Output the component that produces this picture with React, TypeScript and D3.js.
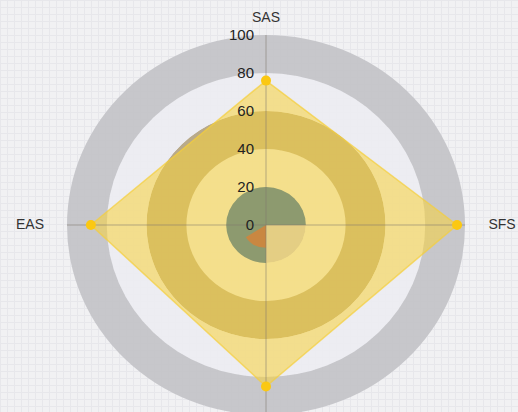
import React from "react";
import * as d3 from "d3";

// axes clockwise from the top; the bottom one is cut off in the picture
const axisNames = ["SAS", "SFS", "", "EAS"];
const scores = [76, 96, 85, 88];
const tickValues = [0, 20, 40, 60, 80, 100];
// band fills from the centre outwards (0-20, 20-40, ...)
const bandColors = ["#c9c7da", "#f0efee", "#b3a27e", "#ececf2", "#c2c2c6"];
// inner sector series, one value per quadrant (SAS-SFS, SFS-bottom, bottom-EAS, EAS-SAS)
const innerQuadrants = [20, 0, 20, 20];
const accentValue = 12;

const W = 518;
const H = 412;
const cx = 266;
const cy = 225;
const squash = 190 / 199;

export default function App() {
  const r = d3.scaleLinear().domain([0, 100]).range([0, 199]);
  const angle = (i: number) => (i / axisNames.length) * Math.PI * 2;
  const px = (i: number, v: number) => r(v) * Math.sin(angle(i));
  const py = (i: number, v: number) => -r(v) * Math.cos(angle(i)) * squash;

  const arc = d3.arc<any>();
  const bands = d3.range(bandColors.length).map((k) => ({
    inner: r(tickValues[k]),
    outer: r(tickValues[k + 1]),
    color: bandColors[k],
  }));

  const line = d3
    .line<number>()
    .x((v, i) => px(i, v))
    .y((v, i) => py(i, v))
    .curve(d3.curveLinearClosed);

  return (
    <svg
      width={W}
      height={H}
      style={{ position: "absolute", left: 0, top: 0, fontFamily: "'Liberation Sans', Arial, sans-serif" }}
    >
      <defs>
        <pattern id="paper" width="7" height="7" patternUnits="userSpaceOnUse">
          <rect width="7" height="7" fill="#f1f1f3" />
          <path d="M0 0.5H7M0.5 0V7" stroke="#e7e7eb" strokeWidth="1" />
        </pattern>
      </defs>
      <rect width={W} height={H} fill="url(#paper)" />

      <g transform={`translate(${cx},${cy}) scale(1,${squash})`}>
        {bands.map((b, k) => (
          <path
            key={k}
            d={arc({ innerRadius: b.inner, outerRadius: b.outer, startAngle: 0, endAngle: Math.PI * 2 }) || ""}
            fill={b.color}
            opacity={0.9}
          />
        ))}
      </g>

      <g transform={`translate(${cx},${cy})`}>
        <path d={line(scores) || ""} fill="#f7d13a" fillOpacity={0.55} stroke="#f5cf3a" strokeOpacity={0.7} strokeWidth={1.5} />
      </g>

      <g transform={`translate(${cx},${cy}) scale(1,${squash})`}>
        {innerQuadrants.map((v, i) => (
          <path
            key={i}
            d={arc({ innerRadius: 0, outerRadius: r(v), startAngle: angle(i), endAngle: angle(i + 1) }) || ""}
            fill="#8d9a6f"
          />
        ))}
        <path
          d={arc({ innerRadius: 0, outerRadius: r(accentValue), startAngle: Math.PI, endAngle: Math.PI * 1.32 }) || ""}
          fill="#d4843a"
          opacity={0.85}
        />
      </g>

      <g transform={`translate(${cx},${cy})`}>
        <line x1={-r(100)} x2={r(100)} y1={0} y2={0} stroke="#7f7a70" strokeOpacity={0.55} />
        <line x1={0} x2={0} y1={-r(100) * squash} y2={r(100) * squash} stroke="#7f7a70" strokeOpacity={0.55} />

        {tickValues.map((t) => (
          <text
            key={t}
            x={-12}
            y={-r(t) * squash + 1}
            textAnchor="end"
            dominantBaseline="middle"
            fontSize={15}
            fill="#222"
          >
            {t}
          </text>
        ))}

        {scores.map((v, i) => (
          <circle key={i} cx={px(i, v)} cy={py(i, v)} r={5} fill="#fbc812" />
        ))}

        {axisNames.map((name, i) => {
          const lx = px(i, 100) + Math.sin(angle(i)) * 37;
          const ly = py(i, 100) - Math.cos(angle(i)) * 17;
          return (
            <text
              key={i}
              x={lx}
              y={ly}
              textAnchor="middle"
              dominantBaseline="middle"
              fontSize={14}
              fill="#333"
            >
              {name}
            </text>
          );
        })}
      </g>
    </svg>
  );
}
